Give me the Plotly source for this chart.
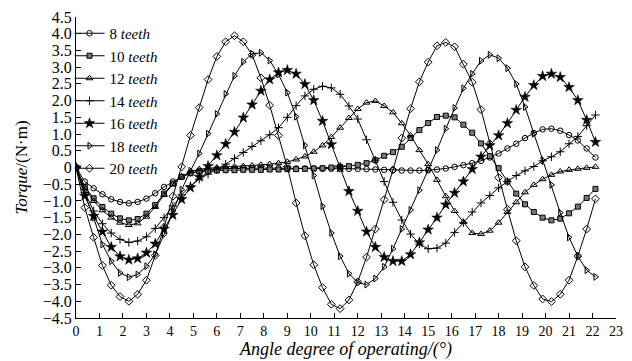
import plotly.graph_objects as go

angle = [0, 0.375, 0.75, 1.125, 1.5, 1.875, 2.25, 2.625, 3.0, 3.375,
         3.75, 4.125, 4.5, 4.875, 5.25, 5.625, 6.0, 6.375, 6.75, 7.125,
         7.5, 7.875, 8.25, 8.625, 9.0, 9.375, 9.75, 10.125, 10.5, 10.875,
         11.25, 11.625, 12.0, 12.375, 12.75, 13.125, 13.5, 13.875, 14.25, 14.625,
         15.0, 15.375, 15.75, 16.125, 16.5, 16.875, 17.25, 17.625, 18.0, 18.375,
         18.75, 19.125, 19.5, 19.875, 20.25, 20.625, 21.0, 21.375, 21.75, 22.125]

t8 = [0, -0.42, -0.62, -0.8, -0.95, -1.03, -1.07, -1.03, -0.93, -0.77,
      -0.58, -0.42, -0.28, -0.17, -0.1, -0.06, -0.04, -0.03, -0.03, -0.02,
      -0.02, -0.02, -0.02, -0.02, -0.02, -0.03, -0.03, -0.03, -0.04, -0.04,
      -0.04, -0.04, -0.04, -0.05, -0.06, -0.07, -0.08, -0.09, -0.09, -0.09,
      -0.08, -0.06, -0.03, 0.02, 0.07, 0.13, 0.2, 0.3, 0.42, 0.57,
      0.71, 0.88, 1.03, 1.14, 1.16, 1.1, 0.97, 0.81, 0.57, 0.3]

t10 = [0, -0.58, -0.92, -1.18, -1.38, -1.52, -1.58, -1.54, -1.38, -1.12,
       -0.78, -0.48, -0.28, -0.17, -0.12, -0.1, -0.09, -0.08, -0.08, -0.07,
       -0.07, -0.07, -0.06, -0.06, -0.05, -0.05, -0.04, -0.03, -0.02, 0.0,
       0.02, 0.04, 0.08, 0.13, 0.22, 0.35, 0.46, 0.62, 0.88, 1.12,
       1.33, 1.51, 1.55, 1.5, 1.28, 1.04, 0.72, 0.34, -0.02, -0.42,
       -0.78, -1.1, -1.33, -1.5, -1.58, -1.53, -1.37, -1.17, -0.91, -0.64]

t12 = [0, -0.62, -1.0, -1.28, -1.5, -1.65, -1.72, -1.67, -1.47, -1.18,
       -0.82, -0.5, -0.27, -0.12, -0.05, -0.02, 0.0, 0.02, 0.03, 0.04,
       0.06, 0.08, 0.1, 0.13, 0.17, 0.24, 0.33, 0.47, 0.66, 0.91,
       1.19, 1.48, 1.75, 1.94, 1.99, 1.84, 1.65, 1.32, 0.96, 0.52,
       0.1, -0.37, -0.86, -1.3, -1.63, -1.96, -1.99, -1.89, -1.65, -1.33,
       -1.04, -0.74, -0.52, -0.35, -0.22, -0.12, -0.07, -0.04, -0.01, 0.02]

t14 = [0, -0.75, -1.3, -1.68, -1.96, -2.15, -2.24, -2.2, -2.07, -1.82,
       -1.5, -1.15, -0.82, -0.55, -0.35, -0.2, -0.06, 0.1, 0.27, 0.45,
       0.63, 0.8, 0.98, 1.19, 1.5, 1.85, 2.14, 2.34, 2.43, 2.38,
       2.19, 1.84, 1.45, 0.83, 0.22, -0.42, -1.04, -1.57, -1.99, -2.29,
       -2.43, -2.41, -2.26, -1.94, -1.65, -1.33, -1.06, -0.84, -0.61, -0.42,
       -0.24, -0.1, 0.03, 0.2, 0.32, 0.47, 0.71, 0.93, 1.25, 1.57]

t16 = [0, -0.85, -1.45, -1.92, -2.38, -2.66, -2.76, -2.72, -2.55, -2.28,
       -1.84, -1.42, -0.95, -0.6, -0.28, 0.04, 0.36, 0.7, 1.06, 1.49,
       1.88, 2.29, 2.63, 2.84, 2.91, 2.8, 2.49, 2.01, 1.39, 0.69,
       0.0, -0.71, -1.3, -1.92, -2.38, -2.68, -2.8, -2.8, -2.6, -2.24,
       -1.86, -1.5, -1.11, -0.76, -0.42, -0.05, 0.32, 0.66, 0.96, 1.32,
       1.72, 2.11, 2.46, 2.73, 2.8, 2.7, 2.4, 2.01, 1.42, 0.76]

t18 = [0, -0.8, -1.5, -2.3, -2.8, -3.15, -3.28, -3.2, -2.95, -2.6,
       -2.0, -1.3, -0.66, -0.1, 0.42, 1.01, 1.6, 2.2, 2.74, 3.16,
       3.4, 3.43, 3.2, 2.78, 2.24, 1.52, 0.66, -0.24, -1.16, -1.96,
       -2.65, -3.17, -3.44, -3.5, -3.32, -2.97, -2.43, -1.84, -1.27, -0.68,
       -0.07, 0.52, 1.16, 1.78, 2.37, 2.8, 3.19, 3.37, 3.27, 2.97,
       2.5, 1.81, 1.01, 0.22, -0.52, -1.35, -2.09, -2.65, -3.07, -3.27]

t20 = [0, -1.2, -2.09, -2.93, -3.52, -3.86, -4.0, -3.79, -3.37, -2.63,
       -1.79, -0.86, 0.02, 0.96, 1.79, 2.63, 3.32, 3.76, 3.94, 3.76,
       3.37, 2.68, 1.86, 0.96, 0.02, -1.06, -2.04, -2.91, -3.59, -4.09,
       -4.22, -3.96, -3.42, -2.68, -1.84, -0.96, -0.07, 0.88, 1.76, 2.56,
       3.15, 3.64, 3.74, 3.61, 3.09, 2.55, 1.73, 0.71, -0.3, -1.25,
       -2.19, -2.97, -3.53, -3.93, -4.01, -3.79, -3.37, -2.65, -1.84, -0.94]

series_names = ["8 <i>teeth</i>", "10 <i>teeth</i>", "12 <i>teeth</i>", "14 <i>teeth</i>",
                "16 <i>teeth</i>", "18 <i>teeth</i>", "20 <i>teeth</i>"]
series_values = [t8, t10, t12, t14, t16, t18, t20]

y_tick_vals = [4.5, 4.0, 3.5, 3.0, 2.5, 2.0, 1.5, 1.0, 0.5, 0, -0.5, -1.0, -1.5,
               -2.0, -2.5, -3.0, -3.5, -4.0, -4.5]
y_tick_text = ["4.5", "4.0", "3.5", "3.0", "2.5", "2.0", "1.5", "1.0", "0.5", "0",
               "\u22120.5", "\u22121.0", "\u22121.5", "\u22122.0", "\u22122.5",
               "\u22123.0", "\u22123.5", "\u22124.0", "\u22124.5"]
x_tick_vals = list(range(0, 24))

styles = [
    dict(symbol="circle-open", size=5.5, color="black", line=dict(color="black", width=1)),
    dict(symbol="square", size=5, color="#7a7a7a", line=dict(color="black", width=1)),
    dict(symbol="triangle-up-open", size=6, color="black", line=dict(color="black", width=1)),
    dict(symbol="cross-thin-open", size=6, color="black", line=dict(color="black", width=1)),
    dict(symbol="star", size=8, color="black", line=dict(color="black", width=0.5)),
    dict(symbol="triangle-right-open", size=6, color="black", line=dict(color="black", width=1)),
    dict(symbol="diamond-open", size=6, color="black", line=dict(color="black", width=1)),
]

FONT = "Liberation Serif"

fig = go.Figure()
for k, (name, vals) in enumerate(zip(series_names, series_values)):
    fig.add_trace(go.Scatter(
        x=angle, y=vals, name=name, mode="lines+markers",
        line=dict(color="black", width=1),
        marker=styles[k],
    ))

fig.update_layout(
    width=632, height=361,
    margin=dict(l=76, r=9, t=15, b=41),
    paper_bgcolor="white", plot_bgcolor="white",
    font=dict(family=FONT, size=15, color="black"),
    showlegend=True,
    legend=dict(
        x=-0.012, y=1.0, xanchor="left", yanchor="top",
        bgcolor="rgba(0,0,0,0)", borderwidth=0,
        font=dict(family=FONT, size=15, color="black"),
        tracegroupgap=0, itemwidth=30,
    ),
    xaxis=dict(
        range=[0, 23], tickmode="array", tickvals=x_tick_vals,
        ticks="inside", ticklen=5, tickwidth=1, tickcolor="black",
        showline=True, linecolor="black", linewidth=1.2,
        showgrid=False, zeroline=False,
        tickfont=dict(family=FONT, size=14),
        title=dict(text="<i>Angle degree of operating/(°)</i>",
                   font=dict(family=FONT, size=18), standoff=0),
    ),
    yaxis=dict(
        range=[-4.5, 4.5], tickmode="array", tickvals=y_tick_vals, ticktext=y_tick_text,
        ticks="inside", ticklen=5, tickwidth=1, tickcolor="black",
        showline=True, linecolor="black", linewidth=1.2,
        showgrid=False, zeroline=False,
        tickfont=dict(family=FONT, size=16),
        title=dict(text="<i>Torque</i>/(N·m)", font=dict(family=FONT, size=17), standoff=10),
    ),
)

fig.write_html("out.html")
